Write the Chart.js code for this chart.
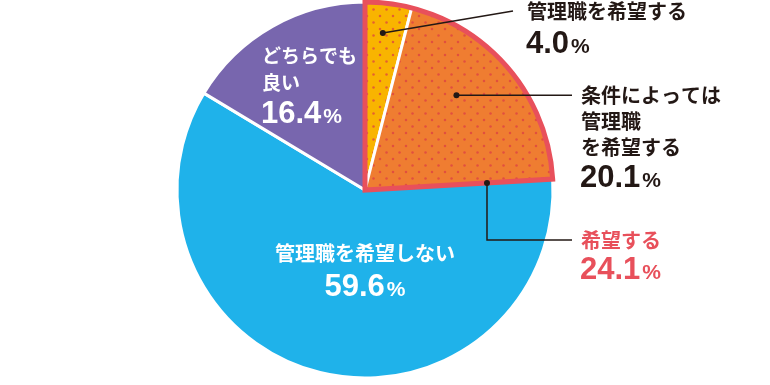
<!DOCTYPE html>
<html lang="ja">
<head>
<meta charset="utf-8">
<script src="https://cdn.jsdelivr.net/npm/chart.js@4.4.1/dist/chart.umd.min.js"></script>
<style>
    html, body { margin: 0; padding: 0; background: #fff; }
    #pieChart { display: block; }
</style>
</head>
<body>
<canvas id="pieChart" width="770" height="385"></canvas>
<script>
// data (clockwise from 12 o'clock)
const categories = ['管理職を希望する', '条件によっては管理職を希望する', '管理職を希望しない', 'どちらでも良い'];
const shares = [4.0, 20.1, 59.6, 16.4];
const groupName = '希望する';
const groupShare = 24.1;
const sliceColors = ['#f9b400', '#ef7d31', '#1fb2ea', '#7866ae'];

const RED = '#e8505b';
const INK = '#231815';
const JP = '"Noto Sans CJK JP", "Noto Sans", sans-serif';
const NUM = '"Liberation Sans", Arial, sans-serif';

// red dot texture used on the two "yes" slices
function dotPattern(base) {
    const c = document.createElement('canvas');
    c.width = 13; c.height = 13;
    const g = c.getContext('2d');
    g.fillStyle = base;
    g.fillRect(0, 0, 13, 13);
    g.fillStyle = 'rgba(220, 60, 70, 0.7)';
    [[3, 3], [9.5, 9.5]].forEach(([x, y]) => {
        g.beginPath();
        g.arc(x, y, 1.25, 0, Math.PI * 2);
        g.fill();
    });
    return g.createPattern(c, 'repeat');
}

function pct(v) { return v.toFixed(1); }

function arcPoint(arc, t, rf) {
    const a = arc.startAngle + (arc.endAngle - arc.startAngle) * t;
    return { x: arc.x + Math.cos(a) * arc.outerRadius * rf, y: arc.y + Math.sin(a) * arc.outerRadius * rf };
}

function drawValue(ctx, text, x, y, color, align) {
    ctx.save();
    ctx.fillStyle = color;
    ctx.textBaseline = 'alphabetic';
    ctx.textAlign = 'left';
    ctx.font = 'bold 31px ' + NUM;
    const w1 = ctx.measureText(text).width;
    ctx.font = 'bold 21px ' + NUM;
    const w2 = ctx.measureText('%').width;
    const sx = align === 'center' ? x - (w1 + w2 + 2) / 2 : x;
    ctx.font = 'bold 31px ' + NUM;
    ctx.fillText(text, sx, y);
    ctx.font = 'bold 21px ' + NUM;
    ctx.fillText('%', sx + w1 + 2, y);
    ctx.restore();
}

function drawLines(ctx, lines, x, y0, step, color, size, align) {
    ctx.save();
    ctx.fillStyle = color;
    ctx.font = 'bold ' + size + 'px ' + JP;
    ctx.textBaseline = 'middle';
    ctx.textAlign = align || 'left';
    lines.forEach((s, i) => ctx.fillText(s, x, y0 + i * step));
    ctx.restore();
}

function dot(ctx, p) {
    ctx.beginPath();
    ctx.arc(p.x, p.y, 3, 0, Math.PI * 2);
    ctx.fill();
}

const labelPlugin = {
    id: 'labelPlugin',
    afterDatasetsDraw(chart) {
        const ctx = chart.ctx;
        const arcs = chart.getDatasetMeta(0).data;
        const a0 = arcs[0], a1 = arcs[1];

        // red outline around the combined "希望する" group
        ctx.save();
        ctx.beginPath();
        ctx.moveTo(a0.x, a0.y);
        ctx.arc(a0.x, a0.y, a0.outerRadius, a0.startAngle, a1.endAngle);
        ctx.closePath();
        ctx.lineWidth = 5;
        ctx.lineJoin = 'miter';
        ctx.strokeStyle = RED;
        ctx.stroke();
        ctx.restore();

        // leader lines
        ctx.save();
        ctx.strokeStyle = INK;
        ctx.fillStyle = INK;
        ctx.lineWidth = 1.5;
        const p0 = arcPoint(a0, 0.45, 0.84);
        ctx.beginPath(); ctx.moveTo(p0.x, p0.y); ctx.lineTo(513, 11); ctx.stroke();
        dot(ctx, p0);
        const p1 = arcPoint(a1, 0.41, 0.70);
        ctx.beginPath(); ctx.moveTo(p1.x, p1.y); ctx.lineTo(572, p1.y); ctx.stroke();
        dot(ctx, p1);
        const p2 = arcPoint(a1, 1, 0.65);
        ctx.beginPath(); ctx.moveTo(p2.x, p2.y); ctx.lineTo(p2.x, 240); ctx.lineTo(572, 240); ctx.stroke();
        dot(ctx, p2);
        ctx.restore();

        // texts outside
        drawLines(ctx, ['管理職を希望する'], 527, 11, 26, INK, 20);
        drawValue(ctx, pct(shares[0]), 526, 53, INK);
        drawLines(ctx, ['条件によっては', '管理職', 'を希望する'], 581, 95, 26, INK, 20);
        drawValue(ctx, pct(shares[1]), 580, 187, INK);
        drawLines(ctx, [groupName], 581, 240, 26, RED, 20);
        drawValue(ctx, pct(groupShare), 580, 279, RED);

        // texts inside
        drawLines(ctx, ['どちらでも', '良い'], 262, 56, 27, '#fff', 19);
        drawValue(ctx, pct(shares[3]), 261, 123, '#fff');
        drawLines(ctx, ['管理職を希望しない'], 365, 253, 26, '#fff', 20, 'center');
        drawValue(ctx, pct(shares[2]), 365, 296, '#fff', 'center');
    }
};

const ctx = document.getElementById('pieChart').getContext('2d');
const pieChart = new Chart(ctx, {
    type: 'pie',
    data: {
        labels: categories,
        datasets: [{
            data: shares,
            backgroundColor: [dotPattern(sliceColors[0]), dotPattern(sliceColors[1]), sliceColors[2], sliceColors[3]],
            borderColor: '#ffffff',
            borderWidth: 3,
            hoverOffset: 0
        }]
    },
    options: {
        responsive: false,
        animation: false,
        radius: 188,
        layout: { padding: { left: 177, right: 217, top: 2, bottom: 7 } },
        plugins: {
            legend: { display: false },
            tooltip: { enabled: false }
        }
    },
    plugins: [labelPlugin]
});
</script>
</body>
</html>
